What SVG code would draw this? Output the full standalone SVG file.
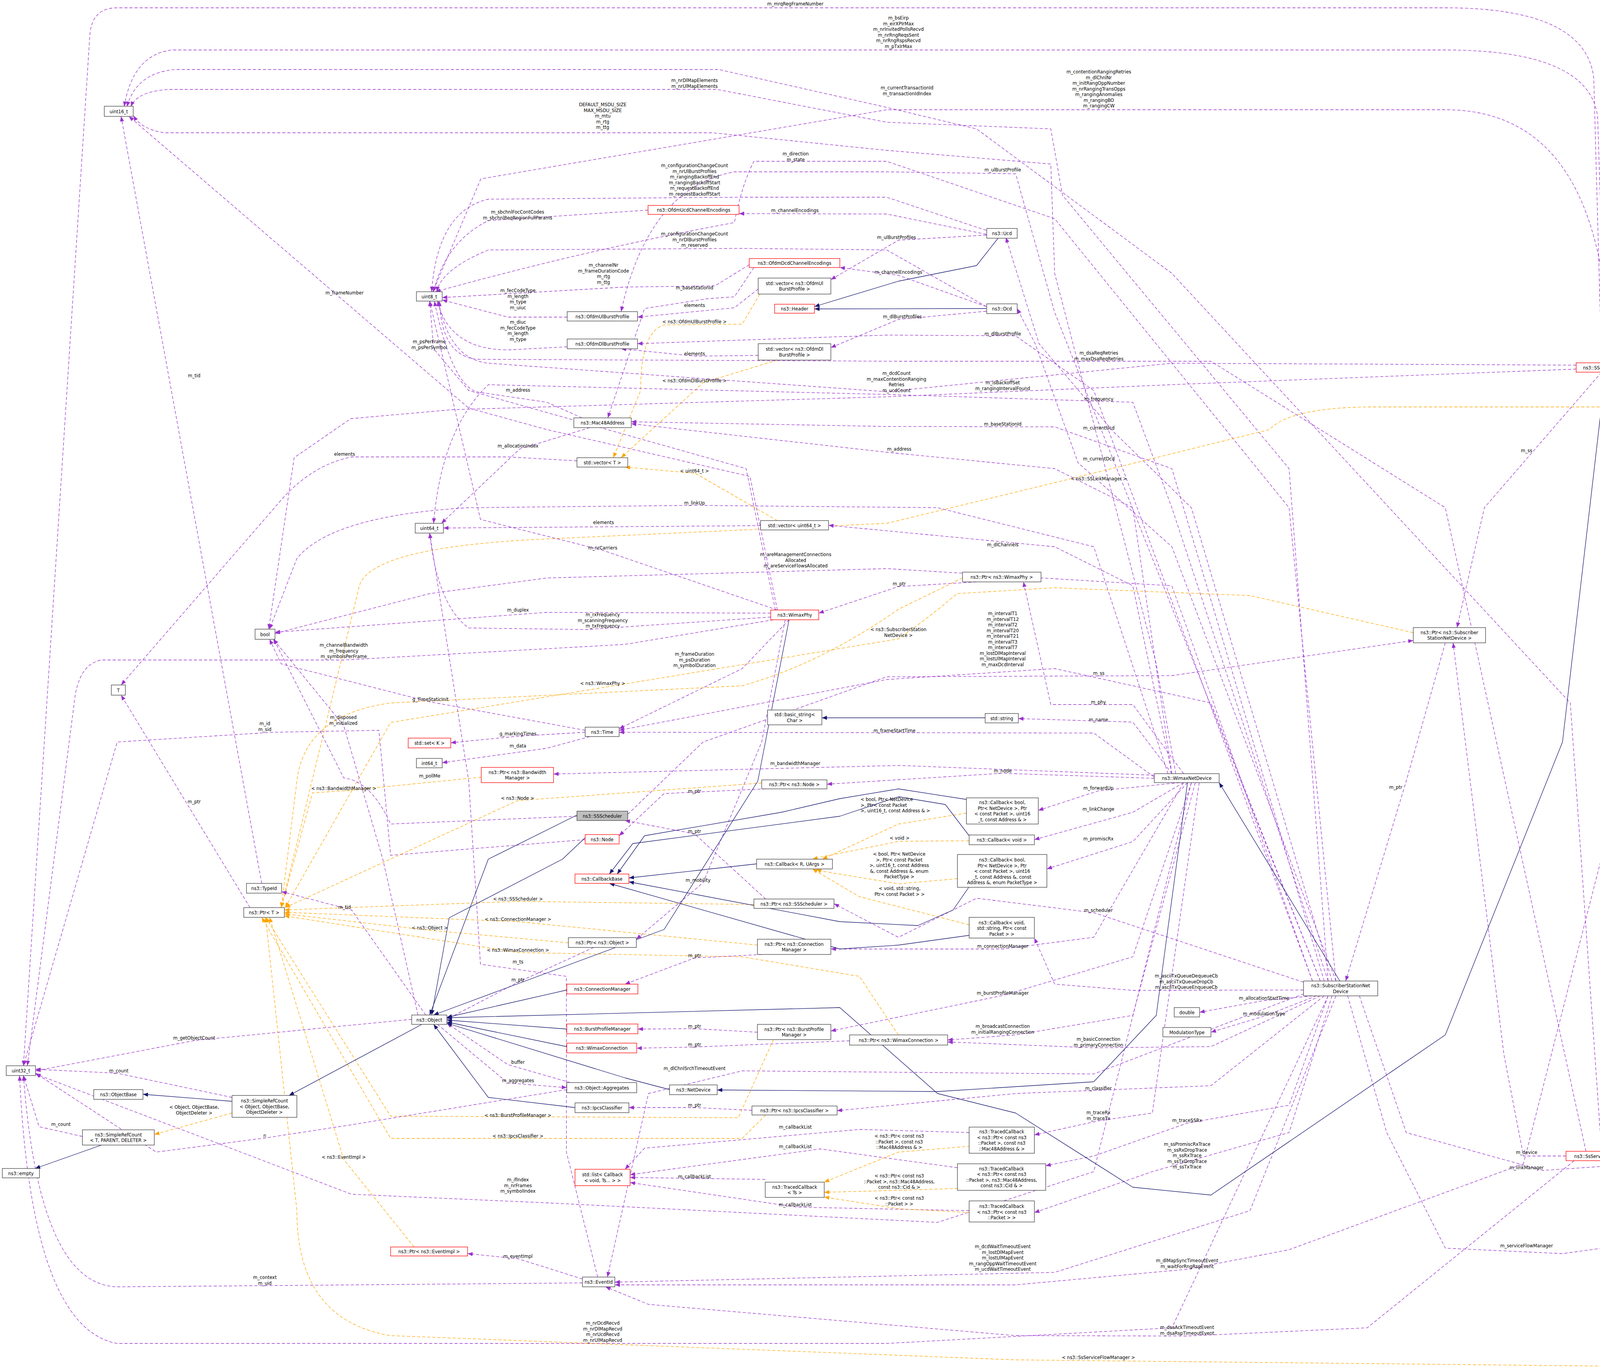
<svg xmlns="http://www.w3.org/2000/svg" width="4541" height="3508" viewBox="0 0 4541 3508">
<style>
text{font-family:"DejaVu Sans","Liberation Sans",sans-serif;font-size:11.5px;fill:#000}
.n text,.l{text-anchor:middle}
.ls{text-anchor:start}
.n rect{fill:#fff;stroke:#404040;stroke-width:1.3}
.r rect{stroke:#ff0000}
.g rect{fill:#bfbfbf}
.u{fill:none;stroke:#9a32cd;stroke-width:1.3;stroke-dasharray:8,5;stroke-linejoin:round;marker-end:url(#ap)}
.t{fill:none;stroke:#ffa500;stroke-width:1.3;stroke-dasharray:8,5;stroke-linejoin:round;marker-end:url(#ao)}
.i{fill:none;stroke:#191970;stroke-width:1.3;stroke-linejoin:round;marker-end:url(#ab)}
</style>
<defs>
<marker id="ap" viewBox="0 0 10 10" refX="10" refY="5" markerWidth="13" markerHeight="13" markerUnits="userSpaceOnUse" orient="auto"><path d="M0,1L10,5L0,9z" fill="#9a32cd"/></marker>
<marker id="ao" viewBox="0 0 10 10" refX="10" refY="5" markerWidth="13" markerHeight="13" markerUnits="userSpaceOnUse" orient="auto"><path d="M0,1L10,5L0,9z" fill="#ffa500"/></marker>
<marker id="ab" viewBox="0 0 10 10" refX="10" refY="5" markerWidth="13" markerHeight="13" markerUnits="userSpaceOnUse" orient="auto"><path d="M0,1L10,5L0,9z" fill="#191970"/></marker>
</defs>
<rect width="4541" height="3508" fill="#fff"/>
<g id="edges">
<path class="u" d="M4100,929 L4080,200 Q4060,20 3700,20 L300,20 Q235,20 230,90 L60,2729"/>
<path class="u" d="M4110,929 L4090,300 Q4070,128 3700,128 L440,128 Q340,140 318,273"/>
<path class="u" d="M4100,2948 L4020,1800 L3000,700 L2500,330 L2270,275 L1840,178 L450,178 Q350,185 325,273"/>
<path class="u" d="M4120,929 Q4110,281 3700,281 L2270,281 L1231,458 L1108,747"/>
<path class="u" d="M3010,1981 L2960,1700 L2700,700 L2690,420 L2270,385 L1824,340 L420,340 Q360,330 342,296"/>
<path class="u" d="M3400,2512 L3300,1200 L2720,500 L2690,330 L2270,313 L1836,229 L430,229 Q350,235 335,273"/>
<path class="u" d="M3420,2512 L3300,1300 L2700,560 L2270,413 L1930,413 Q1900,470 1880,570 Q1500,640 1115,747"/>
<path class="u" d="M2525,590 L2270,505 L1900,505 L1250,510 Q1120,540 1105,747"/>
<path class="u" d="M1659,538 L1250,565 Q1140,620 1110,747"/>
<path class="u" d="M2525,600 L2270,548 L1892,547"/>
<path class="u" d="M2525,785 L2270,640 L1900,636 L1250,640 Q1130,690 1118,747"/>
<path class="u" d="M1918,678 L1830,732 L1600,735 L1132,762"/>
<path class="u" d="M2525,785 L2300,705 L2150,685"/>
<path class="u" d="M2525,602 L2300,615 L2127,716"/>
<path class="u" d="M2525,797 L2300,818 L2127,890"/>
<path class="u" d="M1452,812 L1300,812 L1132,768"/>
<path class="u" d="M1452,888 L1300,896 Q1150,895 1120,771"/>
<path class="u" d="M1930,685 L1880,760 L1810,765 L1650,790 L1556,1070"/>
<path class="t" d="M1945,753 L1900,830 L1700,832 Q1640,850 1640,1000 L1570,1172"/>
<path class="u" d="M1941,740 L1880,788 L1632,812"/>
<path class="u" d="M1941,910 L1780,912 L1590,893"/>
<path class="t" d="M1990,922 L1800,980 L1590,1172"/>
<path class="u" d="M3380,2512 L2700,800 L2600,445 L2270,440 L1880,440 Q1660,480 1590,798"/>
<path class="u" d="M3360,2512 L2800,1000 L2600,860 L2270,858 L1632,880"/>
<path class="u" d="M1990,1562 L1920,1220 L1400,1100 L1200,1045 L330,298"/>
<path class="u" d="M1985,1562 L1910,1200 L1200,1000 L1110,893 L1100,771"/>
<path class="u" d="M670,2262 L310,298"/>
<path class="u" d="M1490,1070 L1400,1030 L1230,1005 Q1160,1000 1112,771"/>
<path class="u" d="M4035,935 L3000,930 L2270,1003 L1250,930 Q1150,920 1122,771"/>
<path class="u" d="M4035,945 L3000,985 L2270,1016 L1158,1049 L898,1072 L753,1172 L688,1611"/>
<path class="u" d="M4060,2948 L3700,1300 L3100,925 L2300,925 L1220,920 Q1130,910 1125,771"/>
<path class="u" d="M3400,2512 L3000,1300 L2900,1030 L2270,1010 L1250,985 Q1130,1100 1110,1340"/>
<path class="u" d="M3390,2512 L3000,1200 L2700,1093 L2270,1092 L1616,1080"/>
<path class="u" d="M3410,2512 L3050,1300 L2850,1105 L2660,880 L2575,608"/>
<path class="u" d="M3000,1981 L2900,1300 L2700,1200 L2270,1158 L1616,1085"/>
<path class="u" d="M3420,2512 L3000,1400 L2760,1185 L2650,880 L2604,790"/>
<path class="t" d="M4303,1042 L3500,1042 Q3300,1045 3250,1100 L2700,1236 L2270,1340 L1400,1380 Q950,1400 920,1500 L720,2324"/>
<path class="u" d="M1510,1095 L1330,1150 L1130,1340"/>
<path class="u" d="M1477,1180 L1300,1170 L900,1170 Q800,1190 720,1280 L310,1754"/>
<path class="t" d="M1990,1333 L1780,1212 L1600,1196"/>
<path class="u" d="M2990,1981 L2800,1400 L2400,1300 L1780,1294 L1200,1300 Q850,1320 760,1430 L690,1611"/>
<path class="u" d="M1947,1346 L1135,1352"/>
<path class="u" d="M1990,1562 L1543,1409 L1230,1330 L1100,771"/>
<path class="u" d="M3360,2512 L3000,1500 L2270,1456 L1400,1480 L1100,1520 L704,1622"/>
<path class="u" d="M3000,1981 L2900,1500 L2700,1400 L2121,1345"/>
<path class="u" d="M2500,1490 L2300,1502 L2096,1570"/>
<path class="u" d="M1973,1570 L1400,1568 L704,1619"/>
<path class="u" d="M1973,1580 L1500,1612 L1200,1608 Q1120,1550 1100,1365"/>
<path class="u" d="M1980,1587 L1600,1650 L880,1690 L260,1690 Q200,1700 190,1800 L70,2729"/>
<path class="u" d="M2020,1587 L1900,1712 L1585,1866"/>
<path class="t" d="M3618,1620 L3200,1525 L2700,1505 L2450,1520 Q2380,1580 2300,1636 L1000,1850 L730,2324"/>
<path class="u" d="M3380,2512 L3100,1800 L2700,1712 L2270,1740 L1585,1870"/>
<path class="u" d="M1607,2085 L1800,1900 L2270,1733 L3000,1730 L3618,1640"/>
<path class="t" d="M2464,1480 L2300,1560 Q2100,1700 1900,1756 L1000,1800 Q780,1830 760,2000 L720,2324"/>
<path class="u" d="M1498,1870 L1100,1797 L720,1700 L690,1637"/>
<path class="u" d="M1498,2150 L1000,2190 L970,1870 L700,1875 L300,1900 L60,2729"/>
<path class="u" d="M1070,2599 L980,2200 L880,1858 L700,1637"/>
<path class="u" d="M1498,1875 L1326,1885 L1154,1902"/>
<path class="u" d="M1510,1886 L1400,1916 L1132,1953"/>
<path class="u" d="M1477,2090 L1000,2110 Q950,2000 880,1992 L700,1635"/>
<path class="t" d="M1232,1990 L880,2025 L800,2030 L720,2324"/>
<path class="u" d="M640,2324 L310,1780"/>
<path class="t" d="M1950,2005 L1325,2050 L730,2324"/>
<path class="u" d="M2955,1985 L2300,1960 L1417,1982"/>
<path class="u" d="M1960,2020 L1700,2032 L1585,2140"/>
<path class="u" d="M1960,2302 L1778,2135 L1600,2101"/>
<path class="u" d="M2010,1587 L1950,1900 L1800,2260 L1629,2405"/>
<path class="t" d="M1930,2316 L1326,2308 L728,2330"/>
<path class="u" d="M1090,2599 L900,2330 L721,2283"/>
<path class="t" d="M1939,2420 L1326,2360 L728,2336"/>
<path class="t" d="M1455,2414 L1100,2382 L728,2340"/>
<path class="t" d="M2300,2650 L2200,2500 L1900,2450 L1326,2439 L728,2345"/>
<path class="u" d="M1530,3270 L1450,2950 L1450,2500 L1230,2469 L1200,2000 L1100,1365"/>
<path class="u" d="M1520,2426 L1326,2515 L1144,2610"/>
<path class="u" d="M1950,2444 L1778,2453 L1600,2520"/>
<path class="u" d="M1054,2610 L500,2664 L91,2742"/>
<path class="u" d="M1939,2643 L1778,2634 L1633,2635"/>
<path class="u" d="M2175,2665 L1778,2681 L1630,2684"/>
<path class="u" d="M1460,2772 L1300,2726 L1144,2620"/>
<path class="u" d="M1120,2623 L1300,2773 L1451,2785"/>
<path class="u" d="M594,2810 L300,2748 L91,2738"/>
<path class="u" d="M3350,2540 L2800,2750 L1900,2742 L1660,2800 L1555,3270"/>
<path class="t" d="M594,2850 L395,2905"/>
<path class="u" d="M211,2910 L100,2885 L60,2754"/>
<path class="t" d="M1980,2662 L1890,2862 L1000,2858 L680,2349"/>
<path class="u" d="M1925,2843 L1778,2836 L1610,2836"/>
<path class="u" d="M1451,2790 L900,2880 L678,2914 L400,2950 L91,2748"/>
<path class="t" d="M1960,2855 L1900,2915 L1000,2915 L670,2349"/>
<path class="u" d="M2481,2900 L2200,2892 L1650,2940 L1600,2994"/>
<path class="u" d="M2451,2990 L2100,2942 L1613,3008"/>
<path class="u" d="M1959,3020 L1613,3015"/>
<path class="u" d="M2481,3100 L2040,3091 L1613,3028"/>
<path class="t" d="M1060,3193 L880,2969 L690,2349"/>
<path class="u" d="M3050,2004 L2800,3000 L2400,3130 L1400,3080 L900,3058 L91,2750"/>
<path class="u" d="M1491,3275 L1326,3223 L1197,3210"/>
<path class="u" d="M1491,3285 L678,3292 L300,3295 Q100,3290 60,2754"/>
<path class="u" d="M3400,2550 L3000,3400 L2270,3440 L300,3440 Q80,3400 50,2754"/>
<path class="u" d="M3030,1981 L2900,1804 L2690,1804 L2620,1490"/>
<path class="u" d="M3000,1981 L2900,1849 L2607,1840"/>
<path class="u" d="M2955,1990 L2800,1877 L1585,1875"/>
<path class="u" d="M2955,1993 L2567,1980 L2117,2008"/>
<path class="u" d="M3020,2004 L2812,2025 L2658,2075"/>
<path class="u" d="M3030,2004 L2900,2080 L2648,2150"/>
<path class="u" d="M3040,2004 L2900,2155 L2680,2225"/>
<path class="u" d="M3337,2515 L2800,2337 L2500,2300 L2300,2400 L2135,2314"/>
<path class="u" d="M3030,2004 L2800,2400 L2567,2430 L2127,2430"/>
<path class="u" d="M3337,2535 L2900,2536 L2700,2520 L2648,2402"/>
<path class="u" d="M3360,2550 L3236,2562 L3071,2592"/>
<path class="u" d="M3370,2550 L3236,2602 L3100,2643"/>
<path class="u" d="M3050,2004 L2900,2450 L2567,2549 L2127,2640"/>
<path class="u" d="M3060,2004 L2900,2600 L2600,2650 L2426,2663"/>
<path class="u" d="M3380,2550 L3100,2680 L2800,2683 L2426,2668"/>
<path class="u" d="M3390,2550 L3100,2780 L2600,2800 L2143,2844"/>
<path class="u" d="M3070,2004 L2950,2850 L2812,2870 L2648,2906"/>
<path class="u" d="M3400,2550 L3300,2830 L3039,2876 L2800,2960 L2677,2985"/>
<path class="u" d="M3410,2550 L3300,2900 L2950,3000 L2648,3105"/>
<path class="u" d="M3420,2550 L3200,3100 L2700,3258 L1574,3283"/>
<path class="u" d="M4100,953 L4150,2000 L3900,2980 L3300,3200 L3039,3250 L2600,3290 L1574,3290"/>
<path class="u" d="M4030,2972 L3500,3400 L3039,3421 L2600,3420 L1660,3340 L1550,3295"/>
<path class="t" d="M4410,3182 L4300,3500 L2600,3482 L1000,3420 Q760,3380 760,3100 L680,2349"/>
<path class="u" d="M3700,1646 L3600,2000 L3445,2512"/>
<path class="u" d="M4009,2960 L3900,2960 L3850,2700 L3720,1646"/>
<path class="u" d="M3480,2550 L3600,2900 L3950,2997 L4200,2980 L4300,2000 L4420,1055"/>
<path class="u" d="M4400,3142 L4150,2972"/>
<path class="u" d="M3450,2550 L3550,2900 L3700,3196 L4000,3210 L4329,3165"/>
<path class="u" d="M4370,1030 L4160,953"/>
<path class="u" d="M4100,953 L3800,1300 L3730,1607"/>
<path class="t" d="M2474,2082 L2300,2110 L2105,2200"/>
<path class="t" d="M2481,2153 L2303,2154 L2100,2195 L2080,2200"/>
<path class="t" d="M2451,2250 L2300,2263 L2100,2230 L2090,2225"/>
<path class="t" d="M2481,2368 L2200,2296 L2080,2225"/>
<path class="t" d="M2484,2935 L2300,2950 L2110,3027"/>
<path class="t" d="M2452,3043 L2300,3048 L2110,3053"/>
<path class="t" d="M2484,3105 L2300,3095 L2110,3065"/>
<path class="i" d="M2555,610 L2500,680 L2300,720 L2085,785"/>
<path class="i" d="M2525,790 L2085,791"/>
<path class="i" d="M2020,1587 L1940,2000 L1700,2380 L1110,2599"/>
<path class="i" d="M1477,2087 L1250,2200 L1100,2599"/>
<path class="i" d="M1498,2145 L1440,2200 L1150,2350 L1105,2599"/>
<path class="i" d="M1451,2535 L1144,2605"/>
<path class="i" d="M1451,2635 L1144,2612"/>
<path class="i" d="M1451,2680 L1144,2617"/>
<path class="i" d="M1472,2836 L1250,2810 L1110,2623"/>
<path class="i" d="M1714,2790 L1600,2760 L1144,2620"/>
<path class="i" d="M1080,2623 L740,2805"/>
<path class="i" d="M594,2820 L366,2802"/>
<path class="i" d="M260,2932 L90,2992"/>
<path class="i" d="M3040,2004 L2960,2600 L2800,2770 L2400,2795 L1836,2791"/>
<path class="i" d="M3430,2512 L3121,2004"/>
<path class="i" d="M4110,953 L4000,1900 L3700,2650 L3100,3060 L2900,3040 L2600,2850 L2400,2800 L2150,2580 L1144,2606"/>
<path class="i" d="M2522,1838 L2104,1838"/>
<path class="i" d="M1937,2212 L1610,2248"/>
<path class="i" d="M2474,2047 L2300,2020 L2150,2045 L2000,2080 L1650,2140 L1580,2238"/>
<path class="i" d="M2481,2140 L2420,2060 L2300,2040 L2150,2090 L1620,2160 L1560,2238"/>
<path class="i" d="M2480,2272 L2440,2330 L2350,2370 L2150,2360 L1610,2258"/>
<path class="i" d="M2481,2395 L2300,2420 L2150,2430 L1560,2262"/>
</g>
<g id="labels">
<text class="l" x="2036" y="14">m_mrqRegFrameNumber</text>
<text class="l" x="2300" y="50">m_bsEirp<tspan x="2300" dy="14.5">m_eirXPIrMax</tspan><tspan x="2300" dy="14.5">m_nrInvitedPollsRecvd</tspan><tspan x="2300" dy="14.5">m_nrRngReqsSent</tspan><tspan x="2300" dy="14.5">m_nrRngRspsRecvd</tspan><tspan x="2300" dy="14.5">m_pTxIrMax</tspan></text>
<text class="l" x="2322" y="229">m_currentTransactionId<tspan x="2322" dy="14.5">m_transactionIdIndex</tspan></text>
<text class="l" x="2813" y="188">m_contentionRangingRetries<tspan x="2813" dy="14.5">m_dlChnlNr</tspan><tspan x="2813" dy="14.5">m_initRangOppNumber</tspan><tspan x="2813" dy="14.5">m_nrRangingTransOpps</tspan><tspan x="2813" dy="14.5">m_rangingAnomalies</tspan><tspan x="2813" dy="14.5">m_rangingBO</tspan><tspan x="2813" dy="14.5">m_rangingCW</tspan></text>
<text class="l" x="1543" y="272">DEFAULT_MSDU_SIZE<tspan x="1543" dy="14.5">MAX_MSDU_SIZE</tspan><tspan x="1543" dy="14.5">m_mtu</tspan><tspan x="1543" dy="14.5">m_rtg</tspan><tspan x="1543" dy="14.5">m_ttg</tspan></text>
<text class="l" x="1778" y="210">m_nrDlMapElements<tspan x="1778" dy="14.5">m_nrUlMapElements</tspan></text>
<text class="l" x="2037" y="398">m_direction<tspan x="2037" dy="14.5">m_state</tspan></text>
<text class="l" x="1778" y="428">m_configurationChangeCount<tspan x="1778" dy="14.5">m_nrUlBurstProfiles</tspan><tspan x="1778" dy="14.5">m_rangingBackoffEnd</tspan><tspan x="1778" dy="14.5">m_rangingBackoffStart</tspan><tspan x="1778" dy="14.5">m_requestBackoffEnd</tspan><tspan x="1778" dy="14.5">m_requestBackoffStart</tspan></text>
<text class="l" x="1325" y="547">m_sbchnlFocContCodes<tspan x="1325" dy="14.5">m_sbchnlReqRegionFullParams</tspan></text>
<text class="l" x="2035" y="543">m_channelEncodings</text>
<text class="l" x="1778" y="603">m_configurationChangeCount<tspan x="1778" dy="14.5">m_nrDlBurstProfiles</tspan><tspan x="1778" dy="14.5">m_reserved</tspan></text>
<text class="l" x="1545" y="683">m_channelNr<tspan x="1545" dy="14.5">m_frameDurationCode</tspan><tspan x="1545" dy="14.5">m_rtg</tspan><tspan x="1545" dy="14.5">m_ttg</tspan></text>
<text class="l" x="2300" y="701">m_channelEncodings</text>
<text class="l" x="2295" y="612">m_ulBurstProfiles</text>
<text class="l" x="2310" y="815">m_dlBurstProfiles</text>
<text class="l" x="1326" y="748">m_fecCodeType<tspan x="1326" dy="14.5">m_length</tspan><tspan x="1326" dy="14.5">m_type</tspan><tspan x="1326" dy="14.5">m_uiuc</tspan></text>
<text class="l" x="1326" y="829">m_diuc<tspan x="1326" dy="14.5">m_fecCodeType</tspan><tspan x="1326" dy="14.5">m_length</tspan><tspan x="1326" dy="14.5">m_type</tspan></text>
<text class="l" x="1778" y="741">m_baseStationId</text>
<text class="l" x="1778" y="786">elements</text>
<text class="l" x="1778" y="828">&lt; ns3::OfdmUlBurstProfile &gt;</text>
<text class="l" x="1778" y="910">elements</text>
<text class="l" x="1778" y="979">&lt; ns3::OfdmDlBurstProfile &gt;</text>
<text class="l" x="2567" y="439">m_ulBurstProfile</text>
<text class="l" x="2567" y="859">m_dlBurstProfile</text>
<text class="l" x="1099" y="879">m_psPerFrame<tspan x="1099" dy="14.5">m_psPerSymbol</tspan></text>
<text class="l" x="882" y="754">m_frameNumber</text>
<text class="l" x="497" y="966">m_tid</text>
<text class="l" x="1326" y="1003">m_address</text>
<text class="l" x="2295" y="960">m_dcdCount<tspan x="2295" dy="14.5">m_maxContentionRanging</tspan><tspan x="2295" dy="14.5">Retries</tspan><tspan x="2295" dy="14.5">m_ucdCount</tspan></text>
<text class="l" x="2567" y="984">m_isBackoffSet<tspan x="2567" dy="14.5">m_rangingIntervalFound</tspan></text>
<text class="l" x="2813" y="908">m_dsaReqRetries<tspan x="2813" dy="14.5">m_maxDsaReqRetries</tspan></text>
<text class="l" x="2813" y="1026">m_frequency</text>
<text class="l" x="2567" y="1090">m_baseStationId</text>
<text class="l" x="2813" y="1100">m_currentUcd</text>
<text class="l" x="2302" y="1154">m_address</text>
<text class="l" x="2813" y="1179">m_currentDcd</text>
<text class="l" x="2813" y="1230">&lt; ns3::SSLinkManager &gt;</text>
<text class="l" x="1326" y="1146">m_allocationIndex</text>
<text class="l" x="882" y="1167">elements</text>
<text class="l" x="1778" y="1210">&lt; uint64_t &gt;</text>
<text class="l" x="1778" y="1292">m_linkUp</text>
<text class="l" x="1545" y="1342">elements</text>
<text class="l" x="1543" y="1407">m_nrCarriers</text>
<text class="l" x="2037" y="1424">m_areManagementConnections<tspan x="2037" dy="14.5">Allocated</tspan><tspan x="2037" dy="14.5">m_areServiceFlowsAllocated</tspan></text>
<text class="l" x="2567" y="1399">m_dlChannels</text>
<text class="l" x="2302" y="1499">m_ptr</text>
<text class="l" x="1326" y="1566">m_duplex</text>
<text class="l" x="1543" y="1578">m_rxFrequency<tspan x="1543" dy="14.5">m_scanningFrequency</tspan><tspan x="1543" dy="14.5">m_txFrequency</tspan></text>
<text class="l" x="880" y="1656">m_channelBandwidth<tspan x="880" dy="14.5">m_frequency</tspan><tspan x="880" dy="14.5">m_symbolsPerFrame</tspan></text>
<text class="l" x="1778" y="1679">m_frameDuration<tspan x="1778" dy="14.5">m_psDuration</tspan><tspan x="1778" dy="14.5">m_symbolDuration</tspan></text>
<text class="l" x="2300" y="1616">&lt; ns3::SubscriberStation<tspan x="2300" dy="14.5">NetDevice &gt;</tspan></text>
<text class="l" x="2567" y="1575">m_intervalT1<tspan x="2567" dy="14.5">m_intervalT12</tspan><tspan x="2567" dy="14.5">m_intervalT2</tspan><tspan x="2567" dy="14.5">m_intervalT20</tspan><tspan x="2567" dy="14.5">m_intervalT21</tspan><tspan x="2567" dy="14.5">m_intervalT3</tspan><tspan x="2567" dy="14.5">m_intervalT7</tspan><tspan x="2567" dy="14.5">m_lostDlMapInterval</tspan><tspan x="2567" dy="14.5">m_lostUlMapInterval</tspan><tspan x="2567" dy="14.5">m_maxDcdInterval</tspan></text>
<text class="l" x="2813" y="1728">m_ss</text>
<text class="l" x="1543" y="1754">&lt; ns3::WimaxPhy &gt;</text>
<text class="l" x="1102" y="1795">g_TimeStaticInit</text>
<text class="l" x="678" y="1857">m_id<tspan x="678" dy="14.5">m_sid</tspan></text>
<text class="l" x="879" y="1841">m_disposed<tspan x="879" dy="14.5">m_initialized</tspan></text>
<text class="l" x="1326" y="1883">g_markingTimes</text>
<text class="l" x="1326" y="1914">m_data</text>
<text class="l" x="1100" y="1991">m_pollMe</text>
<text class="l" x="880" y="2023">&lt; ns3::BandwidthManager &gt;</text>
<text class="l" x="497" y="2057">m_ptr</text>
<text class="l" x="1325" y="2048">&lt; ns3::Node &gt;</text>
<text class="l" x="2036" y="1959">m_bandwidthManager</text>
<text class="l" x="1778" y="2030">m_ptr</text>
<text class="l" x="1778" y="2133">m_ptr</text>
<text class="l" x="1787" y="2258">m_mobility</text>
<text class="l" x="1326" y="2306">&lt; ns3::SSScheduler &gt;</text>
<text class="l" x="882" y="2327">m_tid</text>
<text class="l" x="1326" y="2358">&lt; ns3::ConnectionManager &gt;</text>
<text class="l" x="1100" y="2380">&lt; ns3::Object &gt;</text>
<text class="l" x="1326" y="2437">&lt; ns3::WimaxConnection &gt;</text>
<text class="l" x="1326" y="2467">m_ts</text>
<text class="l" x="1326" y="2513">m_ptr</text>
<text class="l" x="1778" y="2451">m_ptr</text>
<text class="l" x="497" y="2662">m_getObjectCount</text>
<text class="l" x="1778" y="2632">m_ptr</text>
<text class="l" x="1778" y="2679">m_ptr</text>
<text class="l" x="1326" y="2724">buffer</text>
<text class="l" x="1326" y="2771">m_aggregates</text>
<text class="l" x="304" y="2746">m_count</text>
<text class="l" x="1778" y="2740">m_dlChnlSrchTimeoutEvent</text>
<text class="l" x="497" y="2839">&lt; Object, ObjectBase,<tspan x="497" dy="14.5">ObjectDeleter &gt;</tspan></text>
<text class="l" x="156" y="2883">m_count</text>
<text class="l" x="1326" y="2860">&lt; ns3::BurstProfileManager &gt;</text>
<text class="l" x="1778" y="2834">m_ptr</text>
<text class="l" x="678" y="2912">n</text>
<text class="l" x="1326" y="2913">&lt; ns3::IpcsClassifier &gt;</text>
<text class="l" x="2036" y="2890">m_callbackList</text>
<text class="l" x="2036" y="2940">m_callbackList</text>
<text class="l" x="1778" y="3017">m_callbackList</text>
<text class="l" x="2036" y="3089">m_callbackList</text>
<text class="l" x="880" y="2967">&lt; ns3::EventImpl &gt;</text>
<text class="l" x="1326" y="3025">m_ifIndex<tspan x="1326" dy="14.5">m_nrFrames</tspan><tspan x="1326" dy="14.5">m_symbolIndex</tspan></text>
<text class="l" x="1326" y="3221">m_eventImpl</text>
<text class="l" x="678" y="3275">m_context<tspan x="678" dy="14.5">m_uid</tspan></text>
<text class="l" x="1543" y="3392">m_nrDcdRecvd<tspan x="1543" dy="14.5">m_nrDlMapRecvd</tspan><tspan x="1543" dy="14.5">m_nrUcdRecvd</tspan><tspan x="1543" dy="14.5">m_nrUlMapRecvd</tspan></text>
<text class="l" x="2812" y="1802">m_phy</text>
<text class="l" x="2812" y="1847">m_name</text>
<text class="l" x="2290" y="1875">m_frameStartTime</text>
<text class="l" x="2567" y="1978">m_node</text>
<text class="l" x="2812" y="2022">m_forwardUp</text>
<text class="l" x="2812" y="2076">m_linkChange</text>
<text class="l" x="2812" y="2152">m_promiscRx</text>
<text class="l" x="2812" y="2335">m_scheduler</text>
<text class="l" x="2567" y="2427">m_connectionManager</text>
<text class="l" x="3037" y="2503">m_asciiTxQueueDequeueCb<tspan x="3037" dy="14.5">m_asciiTxQueueDropCb</tspan><tspan x="3037" dy="14.5">m_asciiTxQueueEnqueueCb</tspan></text>
<text class="l" x="3236" y="2560">m_allocationStartTime</text>
<text class="l" x="3236" y="2600">m_modulationType</text>
<text class="l" x="2567" y="2547">m_burstProfileManager</text>
<text class="l" x="2567" y="2632">m_broadcastConnection<tspan x="2567" dy="14.5">m_initialRangingConnection</tspan></text>
<text class="l" x="2812" y="2665">m_basicConnection<tspan x="2812" dy="14.5">m_primaryConnection</tspan></text>
<text class="l" x="2812" y="2791">m_classifier</text>
<text class="l" x="2812" y="2853">m_traceRx<tspan x="2812" dy="14.5">m_traceTx</tspan></text>
<text class="l" x="3039" y="2873">m_traceSSRx</text>
<text class="l" x="3039" y="2934">m_ssPromiscRxTrace<tspan x="3039" dy="14.5">m_ssRxDropTrace</tspan><tspan x="3039" dy="14.5">m_ssRxTrace</tspan><tspan x="3039" dy="14.5">m_ssTxDropTrace</tspan><tspan x="3039" dy="14.5">m_ssTxTrace</tspan></text>
<text class="l" x="2567" y="3196">m_dcdWaitTimeoutEvent<tspan x="2567" dy="14.5">m_lostDlMapEvent</tspan><tspan x="2567" dy="14.5">m_lostUlMapEvent</tspan><tspan x="2567" dy="14.5">m_rangOppWaitTimeoutEvent</tspan><tspan x="2567" dy="14.5">m_ucdWaitTimeoutEvent</tspan></text>
<text class="l" x="3039" y="3232">m_dlMapSyncTimeoutEvent<tspan x="3039" dy="14.5">m_waitForRngRspEvent</tspan></text>
<text class="l" x="3039" y="3403">m_dsaAckTimeoutEvent<tspan x="3039" dy="14.5">m_dsaRspTimeoutEvent</tspan></text>
<text class="l" x="2812" y="3480">&lt; ns3::SsServiceFlowManager &gt;</text>
<text class="l" x="3573" y="2020">m_ptr</text>
<text class="l" x="3908" y="2955">m_device</text>
<text class="l" x="3908" y="2994">m_linkManager</text>
<text class="l" x="4260" y="3039">m_ptr</text>
<text class="l" x="3908" y="3194">m_serviceFlowManager</text>
<text class="l" x="4259" y="979">m_ptr</text>
<text class="l" x="3908" y="1158">m_ss</text>
<text class="ls" x="2203" y="2051">&lt; bool, Ptr&lt; NetDevice<tspan x="2203" dy="14.5">&gt;, Ptr&lt; const Packet</tspan><tspan x="2203" dy="14.5">&gt;, uint16_t, const Address &amp; &gt;</tspan></text>
<text class="l" x="2303" y="2150">&lt; void &gt;</text>
<text class="l" x="2302" y="2191">&lt; bool, Ptr&lt; NetDevice<tspan x="2302" dy="14.5">&gt;, Ptr&lt; const Packet</tspan><tspan x="2302" dy="14.5">&gt;, uint16_t, const Address</tspan><tspan x="2302" dy="14.5">&amp;, const Address &amp;, enum</tspan><tspan x="2302" dy="14.5">PacketType &gt;</tspan></text>
<text class="l" x="2303" y="2279">&lt; void, std::string,<tspan x="2303" dy="14.5">Ptr&lt; const Packet &gt; &gt;</tspan></text>
<text class="l" x="2302" y="2913">&lt; ns3::Ptr&lt; const ns3<tspan x="2302" dy="14.5">::Packet &gt;, const ns3</tspan><tspan x="2302" dy="14.5">::Mac48Address &amp; &gt;</tspan></text>
<text class="l" x="2302" y="3015">&lt; ns3::Ptr&lt; const ns3<tspan x="2302" dy="14.5">::Packet &gt;, ns3::Mac48Address,</tspan><tspan x="2302" dy="14.5">const ns3::Cid &amp; &gt;</tspan></text>
<text class="l" x="2302" y="3072">&lt; ns3::Ptr&lt; const ns3<tspan x="2302" dy="14.5">::Packet &gt; &gt;</tspan></text>
</g>
<g id="n_uint16" class="n"><rect x="267" y="272" width="74" height="26"/><text x="304" y="289.5">uint16_t</text></g>
<g id="n_uint8" class="n"><rect x="1066" y="747" width="66" height="24"/><text x="1099" y="763.5">uint8_t</text></g>
<g id="n_ucdenc" class="n r"><rect x="1659" y="526" width="233" height="23"/><text x="1775.5" y="542">ns3::OfdmUcdChannelEncodings</text></g>
<g id="n_dcdenc" class="n r"><rect x="1918" y="662" width="232" height="23"/><text x="2034" y="678">ns3::OfdmDcdChannelEncodings</text></g>
<g id="n_vecul" class="n"><rect x="1941" y="712" width="186" height="41"/><text x="2034" y="729.5">std::vector&lt; ns3::OfdmUl<tspan x="2034" dy="14.5">BurstProfile &gt;</tspan></text></g>
<g id="n_header" class="n r"><rect x="1983" y="779" width="102" height="23"/><text x="2034" y="795">ns3::Header</text></g>
<g id="n_ulbp" class="n"><rect x="1452" y="798" width="180" height="24"/><text x="1542" y="814.5">ns3::OfdmUlBurstProfile</text></g>
<g id="n_dlbp" class="n"><rect x="1452" y="868" width="180" height="25"/><text x="1542" y="885">ns3::OfdmDlBurstProfile</text></g>
<g id="n_vecdl" class="n"><rect x="1941" y="880" width="186" height="42"/><text x="2034" y="898">std::vector&lt; ns3::OfdmDl<tspan x="2034" dy="14.5">BurstProfile &gt;</tspan></text></g>
<g id="n_mac48" class="n"><rect x="1469" y="1070" width="147" height="25"/><text x="1542.5" y="1087">ns3::Mac48Address</text></g>
<g id="n_vect" class="n"><rect x="1477" y="1172" width="130" height="24"/><text x="1542" y="1188.5">std::vector&lt; T &gt;</text></g>
<g id="n_uint64" class="n"><rect x="1063" y="1340" width="72" height="25"/><text x="1099" y="1357">uint64_t</text></g>
<g id="n_vecu64" class="n"><rect x="1947" y="1333" width="174" height="24"/><text x="2034" y="1349.5">std::vector&lt; uint64_t &gt;</text></g>
<g id="n_wimaxphy" class="n r"><rect x="1973" y="1562" width="123" height="25"/><text x="2034.5" y="1579">ns3::WimaxPhy</text></g>
<g id="n_bool" class="n"><rect x="653" y="1611" width="51" height="26"/><text x="678.5" y="1628.5">bool</text></g>
<g id="n_T" class="n"><rect x="285" y="1754" width="36" height="26"/><text x="303" y="1771.5">T</text></g>
<g id="n_basicstr" class="n"><rect x="1965" y="1818" width="139" height="38"/><text x="2034.5" y="1834">std::basic_string&lt;<tspan x="2034.5" dy="14.5">Char &gt;</tspan></text></g>
<g id="n_time" class="n"><rect x="1498" y="1862" width="87" height="24"/><text x="1541.5" y="1878.5">ns3::Time</text></g>
<g id="n_setk" class="n r"><rect x="1045" y="1890" width="109" height="25"/><text x="1099.5" y="1907">std::set&lt; K &gt;</text></g>
<g id="n_int64" class="n"><rect x="1066" y="1942" width="66" height="24"/><text x="1099" y="1958.5">int64_t</text></g>
<g id="n_ptrbw" class="n r"><rect x="1232" y="1965" width="185" height="39"/><text x="1324.5" y="1981.5">ns3::Ptr&lt; ns3::Bandwidth<tspan x="1324.5" dy="14.5">Manager &gt;</tspan></text></g>
<g id="n_ptrnode" class="n"><rect x="1950" y="1997" width="167" height="23"/><text x="2033.5" y="2013">ns3::Ptr&lt; ns3::Node &gt;</text></g>
<g id="n_ssscheduler" class="n g"><rect x="1477" y="2077" width="130" height="24"/><text x="1542" y="2093.5">ns3::SSScheduler</text></g>
<g id="n_node" class="n r"><rect x="1498" y="2137" width="87" height="24"/><text x="1541.5" y="2153.5">ns3::Node</text></g>
<g id="n_cbr" class="n"><rect x="1937" y="2200" width="194" height="25"/><text x="2034" y="2217">ns3::Callback&lt; R, UArgs &gt;</text></g>
<g id="n_cbbase" class="n r"><rect x="1472" y="2238" width="138" height="24"/><text x="1541" y="2254.5">ns3::CallbackBase</text></g>
<g id="n_typeid" class="n"><rect x="631" y="2262" width="90" height="25"/><text x="676" y="2279">ns3::TypeId</text></g>
<g id="n_ptrt" class="n"><rect x="624" y="2324" width="104" height="25"/><text x="676" y="2341">ns3::Ptr&lt; T &gt;</text></g>
<g id="n_ptrsss" class="n"><rect x="1930" y="2302" width="205" height="24"/><text x="2032.5" y="2318.5">ns3::Ptr&lt; ns3::SSScheduler &gt;</text></g>
<g id="n_ptrobj" class="n"><rect x="1455" y="2401" width="174" height="25"/><text x="1542" y="2418">ns3::Ptr&lt; ns3::Object &gt;</text></g>
<g id="n_ptrcm" class="n"><rect x="1939" y="2405" width="188" height="39"/><text x="2033" y="2421.5">ns3::Ptr&lt; ns3::Connection<tspan x="2033" dy="14.5">Manager &gt;</tspan></text></g>
<g id="n_cm" class="n r"><rect x="1451" y="2520" width="182" height="25"/><text x="1542" y="2537">ns3::ConnectionManager</text></g>
<g id="n_object" class="n"><rect x="1054" y="2599" width="90" height="24"/><text x="1099" y="2615.5">ns3::Object</text></g>
<g id="n_bpm" class="n r"><rect x="1451" y="2622" width="182" height="25"/><text x="1542" y="2639">ns3::BurstProfileManager</text></g>
<g id="n_ptrbpm" class="n"><rect x="1939" y="2623" width="188" height="39"/><text x="2033" y="2639.5">ns3::Ptr&lt; ns3::BurstProfile<tspan x="2033" dy="14.5">Manager &gt;</tspan></text></g>
<g id="n_ptrwc" class="n"><rect x="2175" y="2650" width="251" height="26"/><text x="2300.5" y="2667.5">ns3::Ptr&lt; ns3::WimaxConnection &gt;</text></g>
<g id="n_wc" class="n r"><rect x="1451" y="2671" width="179" height="25"/><text x="1540.5" y="2688">ns3::WimaxConnection</text></g>
<g id="n_uint32" class="n"><rect x="16" y="2729" width="75" height="25"/><text x="53.5" y="2746">uint32_t</text></g>
<g id="n_agg" class="n"><rect x="1451" y="2772" width="179" height="26"/><text x="1540.5" y="2789.5">ns3::Object::Aggregates</text></g>
<g id="n_netdevice" class="n"><rect x="1714" y="2778" width="122" height="25"/><text x="1775" y="2795">ns3::NetDevice</text></g>
<g id="n_objectbase" class="n"><rect x="240" y="2790" width="126" height="25"/><text x="303" y="2807">ns3::ObjectBase</text></g>
<g id="n_srcobj" class="n"><rect x="594" y="2805" width="166" height="56"/><text x="677" y="2823">ns3::SimpleRefCount<tspan x="677" dy="14.5">&lt; Object, ObjectBase,</tspan><tspan x="677" dy="14.5">ObjectDeleter &gt;</tspan></text></g>
<g id="n_ipcs" class="n"><rect x="1472" y="2824" width="138" height="25"/><text x="1541" y="2841">ns3::IpcsClassifier</text></g>
<g id="n_ptripcs" class="n"><rect x="1925" y="2832" width="218" height="23"/><text x="2034" y="2848">ns3::Ptr&lt; ns3::IpcsClassifier &gt;</text></g>
<g id="n_srct" class="n"><rect x="211" y="2893" width="184" height="39"/><text x="303" y="2909.5">ns3::SimpleRefCount<tspan x="303" dy="14.5">&lt; T, PARENT, DELETER &gt;</tspan></text></g>
<g id="n_empty" class="n"><rect x="6" y="2992" width="95" height="24"/><text x="53.5" y="3008.5">ns3::empty</text></g>
<g id="n_list" class="n r"><rect x="1472" y="2994" width="141" height="42"/><text x="1542.5" y="3012">std::list&lt; Callback<tspan x="1542.5" dy="14.5">&lt; void, Ts... &gt; &gt;</tspan></text></g>
<g id="n_tcts" class="n"><rect x="1959" y="3027" width="151" height="39"/><text x="2034.5" y="3043.5">ns3::TracedCallback<tspan x="2034.5" dy="14.5">&lt; Ts &gt;</tspan></text></g>
<g id="n_ptrei" class="n r"><rect x="1000" y="3193" width="197" height="23"/><text x="1098.5" y="3209">ns3::Ptr&lt; ns3::EventImpl &gt;</text></g>
<g id="n_eventid" class="n"><rect x="1491" y="3270" width="83" height="25"/><text x="1532.5" y="3287">ns3::EventId</text></g>
<g id="n_ucd" class="n"><rect x="2526" y="585" width="78" height="25"/><text x="2565" y="602">ns3::Ucd</text></g>
<g id="n_dcd" class="n"><rect x="2526" y="778" width="78" height="25"/><text x="2565" y="795">ns3::Dcd</text></g>
<g id="n_sslm" class="n r"><rect x="4035" y="929" width="152" height="24"/><text x="4111" y="945.5">ns3::SSLinkManager</text></g>
<g id="n_ptrsslm" class="n"><rect x="4304" y="1030" width="231" height="25"/><text x="4419.5" y="1047">ns3::Ptr&lt; ns3::SSLinkManager &gt;</text></g>
<g id="n_ptrphy" class="n"><rect x="2464" y="1465" width="201" height="25"/><text x="2564.5" y="1482">ns3::Ptr&lt; ns3::WimaxPhy &gt;</text></g>
<g id="n_ptrssnd" class="n"><rect x="3618" y="1607" width="185" height="39"/><text x="3710.5" y="1623.5">ns3::Ptr&lt; ns3::Subscriber<tspan x="3710.5" dy="14.5">StationNetDevice &gt;</tspan></text></g>
<g id="n_string" class="n"><rect x="2522" y="1827" width="85" height="24"/><text x="2564.5" y="1843.5">std::string</text></g>
<g id="n_wnd" class="n"><rect x="2955" y="1981" width="166" height="23"/><text x="3038" y="1997">ns3::WimaxNetDevice</text></g>
<g id="n_cbbooladdr" class="n"><rect x="2474" y="2043" width="184" height="67"/><text x="2566" y="2059">ns3::Callback&lt; bool,<tspan x="2566" dy="14.5">Ptr&lt; NetDevice &gt;, Ptr</tspan><tspan x="2566" dy="14.5">&lt; const Packet &gt;, uint16</tspan><tspan x="2566" dy="14.5">_t, const Address &amp; &gt;</tspan></text></g>
<g id="n_cbvoid" class="n"><rect x="2481" y="2138" width="167" height="25"/><text x="2564.5" y="2155">ns3::Callback&lt; void &gt;</text></g>
<g id="n_cbpkt" class="n"><rect x="2451" y="2188" width="229" height="84"/><text x="2565.5" y="2206">ns3::Callback&lt; bool,<tspan x="2565.5" dy="14.5">Ptr&lt; NetDevice &gt;, Ptr</tspan><tspan x="2565.5" dy="14.5">&lt; const Packet &gt;, uint16</tspan><tspan x="2565.5" dy="14.5">_t, const Address &amp;, const</tspan><tspan x="2565.5" dy="14.5">Address &amp;, enum PacketType &gt;</tspan></text></g>
<g id="n_cbstr" class="n"><rect x="2481" y="2349" width="167" height="53"/><text x="2564.5" y="2366.5">ns3::Callback&lt; void,<tspan x="2564.5" dy="14.5">std::string, Ptr&lt; const</tspan><tspan x="2564.5" dy="14.5">Packet &gt; &gt;</tspan></text></g>
<g id="n_ssnd" class="n"><rect x="3337" y="2512" width="190" height="38"/><text x="3432" y="2528">ns3::SubscriberStationNet<tspan x="3432" dy="14.5">Device</tspan></text></g>
<g id="n_double" class="n"><rect x="3006" y="2580" width="65" height="24"/><text x="3038.5" y="2596.5">double</text></g>
<g id="n_modtype" class="n"><rect x="2977" y="2631" width="123" height="24"/><text x="3038.5" y="2647.5">ModulationType</text></g>
<g id="n_tcmac" class="n"><rect x="2481" y="2886" width="167" height="67"/><text x="2564.5" y="2902">ns3::TracedCallback<tspan x="2564.5" dy="14.5">&lt; ns3::Ptr&lt; const ns3</tspan><tspan x="2564.5" dy="14.5">::Packet &gt;, const ns3</tspan><tspan x="2564.5" dy="14.5">::Mac48Address &amp; &gt;</tspan></text></g>
<g id="n_tccid" class="n"><rect x="2451" y="2980" width="226" height="68"/><text x="2564" y="2996.5">ns3::TracedCallback<tspan x="2564" dy="14.5">&lt; ns3::Ptr&lt; const ns3</tspan><tspan x="2564" dy="14.5">::Packet &gt;, ns3::Mac48Address,</tspan><tspan x="2564" dy="14.5">const ns3::Cid &amp; &gt;</tspan></text></g>
<g id="n_tcpkt" class="n"><rect x="2481" y="3075" width="167" height="54"/><text x="2564.5" y="3093">ns3::TracedCallback<tspan x="2564.5" dy="14.5">&lt; ns3::Ptr&lt; const ns3</tspan><tspan x="2564.5" dy="14.5">::Packet &gt; &gt;</tspan></text></g>
<g id="n_sssfm" class="n r"><rect x="4009" y="2948" width="203" height="24"/><text x="4110.5" y="2964.5">ns3::SsServiceFlowManager</text></g>
<g id="n_ptrsssfm" class="n"><rect x="4329" y="3142" width="181" height="40"/><text x="4419.5" y="3159">ns3::Ptr&lt; ns3::SsService<tspan x="4419.5" dy="14.5">FlowManager &gt;</tspan></text></g>
</svg>
